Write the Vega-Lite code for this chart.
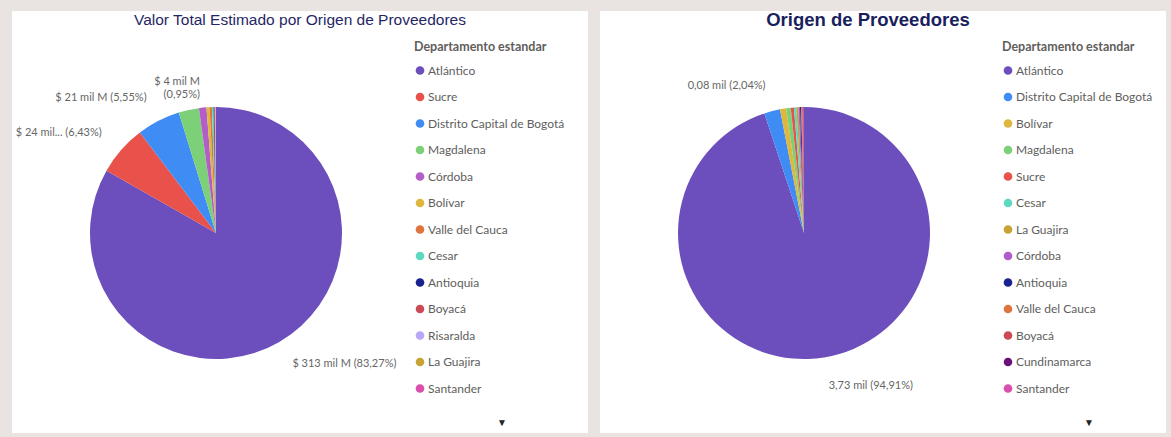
{
  "$schema": "https://vega.github.io/schema/vega-lite/v6.json",
  "background": "#E9E3E1",
  "padding": {"left": 12, "top": 11, "right": 5, "bottom": 4},
  "config": {
    "view": {"stroke": null, "fill": "white"},
    "legend": {
      "orient": "none", "legendX": -6, "legendY": 8,
      "titleFont": "Lato", "titleFontSize": 12.5, "titleFontWeight": "bold", "titleColor": "#605E5C",
      "labelFont": "Lato", "labelFontSize": 12, "labelColor": "#605E5C",
      "symbolType": "circle", "symbolSize": 75, "symbolOpacity": 1, "symbolStrokeWidth": 0,
      "rowPadding": 14.5, "titlePadding": 11, "labelOffset": 2, "padding": 0, "labelLimit": 200
    }
  },
  "datasets": {
    "valor": [
      {"dept": "Atlántico", "v": 313.1, "label": "$ 313 mil M (83,27%)"},
      {"dept": "Sucre", "v": 24.2, "label": "$ 24 mil... (6,43%)"},
      {"dept": "Distrito Capital de Bogotá", "v": 20.9, "label": "$ 21 mil M (5,55%)"},
      {"dept": "Magdalena", "v": 9.8, "label": ""},
      {"dept": "Córdoba", "v": 3.6, "label": ["$ 4 mil M", "(0,95%)"]},
      {"dept": "Bolívar", "v": 1.5, "label": ""},
      {"dept": "Valle del Cauca", "v": 1.1, "label": ""},
      {"dept": "Cesar", "v": 0.8, "label": ""},
      {"dept": "Antioquia", "v": 0.4, "label": ""},
      {"dept": "Boyacá", "v": 0.3, "label": ""},
      {"dept": "Risaralda", "v": 0.2, "label": ""},
      {"dept": "La Guajira", "v": 0.15, "label": ""},
      {"dept": "Santander", "v": 0.1, "label": ""}
    ],
    "prov": [
      {"dept": "Atlántico", "v": 3730, "label": "3,73 mil (94,91%)"},
      {"dept": "Distrito Capital de Bogotá", "v": 80, "label": "0,08 mil (2,04%)"},
      {"dept": "Bolívar", "v": 31, "label": ""},
      {"dept": "Magdalena", "v": 23, "label": ""},
      {"dept": "Sucre", "v": 16, "label": ""},
      {"dept": "Cesar", "v": 12, "label": ""},
      {"dept": "La Guajira", "v": 10, "label": ""},
      {"dept": "Córdoba", "v": 8, "label": ""},
      {"dept": "Antioquia", "v": 6, "label": ""},
      {"dept": "Valle del Cauca", "v": 5, "label": ""},
      {"dept": "Boyacá", "v": 4, "label": ""},
      {"dept": "Cundinamarca", "v": 3, "label": ""},
      {"dept": "Santander", "v": 2, "label": ""}
    ],
    "tituloA": [{"t": "Valor Total Estimado por Origen de Proveedores"}],
    "tituloB": [{"t": "Origen de Proveedores"}],
    "flecha": [{"s": "▼"}]
  },
  "spacing": 12,
  "resolve": {"scale": {"color": "independent", "theta": "independent"}, "legend": {"color": "independent"}},
  "hconcat": [
    {
      "spacing": 0,
      "resolve": {"scale": {"color": "independent", "theta": "independent"}, "legend": {"color": "independent"}},
      "vconcat": [
        {
          "width": 576, "height": 22,
          "view": {"fill": "white", "stroke": null},
          "data": {"name": "tituloA"},
          "mark": {"type": "text", "font": "Liberation Sans", "fontSize": 15.5, "color": "#1F2766", "baseline": "middle", "dy": -2},
          "encoding": {"text": {"field": "t", "type": "nominal"}}
        },
        {
          "spacing": 0,
          "bounds": "flush",
          "resolve": {"scale": {"color": "independent", "theta": "independent"}, "legend": {"color": "independent"}},
          "hconcat": [
            {
              "width": 408, "height": 400,
              "view": {"fill": "white", "stroke": null},
              "data": {"name": "valor"},
              "layer": [
                {
                  "mark": {"type": "arc", "outerRadius": 126},
                  "encoding": {
                    "theta": {"field": "v", "type": "quantitative", "stack": true},
                    "order": {"field": "v", "type": "quantitative", "sort": "descending"},
                    "color": {"field": "dept", "type": "nominal", "legend": null,
                      "scale": {"domain": ["Atlántico", "Sucre", "Distrito Capital de Bogotá", "Magdalena", "Córdoba", "Bolívar", "Valle del Cauca", "Cesar", "Antioquia", "Boyacá", "Risaralda", "La Guajira", "Santander"],
                                "range": ["#6C4FBC", "#E8524A", "#408CF5", "#7CD178", "#B35DC8", "#DDB73E", "#E0743F", "#5DD9C1", "#1A2290", "#CB4A55", "#B9A7F9", "#C6A332", "#DA4FAB"]}}
                  }
                },
                {
                  "mark": {"type": "text", "radius": 152, "align": "left", "baseline": "middle", "font": "Lato", "fontSize": 11, "color": "#666666"},
                  "encoding": {
                    "theta": {"field": "v", "type": "quantitative", "stack": true},
                    "order": {"field": "v", "type": "quantitative", "sort": "descending"},
                    "text": {"condition": {"test": "datum.dept === 'Atlántico'", "field": "label", "type": "nominal"}, "value": ""}
                  }
                },
                {
                  "mark": {"type": "text", "radius": 152, "align": "right", "baseline": "middle", "font": "Lato", "fontSize": 11, "color": "#666666"},
                  "encoding": {
                    "theta": {"field": "v", "type": "quantitative", "stack": true},
                    "order": {"field": "v", "type": "quantitative", "sort": "descending"},
                    "text": {"condition": {"test": "datum.dept !== 'Atlántico'", "field": "label", "type": "nominal"}, "value": ""}
                  }
                }
              ]
            },
            {
              "width": 168, "height": 400,
              "view": {"fill": "white", "stroke": null},
              "layer": [
                {
                  "data": {"name": "valor"},
                  "mark": {"type": "point", "filled": true, "opacity": 0},
                  "encoding": {
                    "color": {"field": "dept", "type": "nominal", "title": "Departamento estandar",
                      "scale": {"domain": ["Atlántico", "Sucre", "Distrito Capital de Bogotá", "Magdalena", "Córdoba", "Bolívar", "Valle del Cauca", "Cesar", "Antioquia", "Boyacá", "Risaralda", "La Guajira", "Santander"],
                                "range": ["#6C4FBC", "#E8524A", "#408CF5", "#7CD178", "#B35DC8", "#DDB73E", "#E0743F", "#5DD9C1", "#1A2290", "#CB4A55", "#B9A7F9", "#C6A332", "#DA4FAB"]}}
                  }
                },
                {
                  "data": {"name": "flecha"},
                  "mark": {"type": "text", "fontSize": 10, "color": "#252423", "baseline": "middle", "dy": 190, "dx": -2},
                  "encoding": {"text": {"field": "s", "type": "nominal"}}
                }
              ]
            }
          ]
        }
      ]
    },
    {
      "spacing": 0,
      "resolve": {"scale": {"color": "independent", "theta": "independent"}, "legend": {"color": "independent"}},
      "vconcat": [
        {
          "width": 566, "height": 22,
          "view": {"fill": "white", "stroke": null},
          "data": {"name": "tituloB"},
          "mark": {"type": "text", "font": "Liberation Sans", "fontSize": 18.5, "fontWeight": "bold", "color": "#1A1F5E", "baseline": "middle", "dy": -2, "dx": -15},
          "encoding": {"text": {"field": "t", "type": "nominal"}}
        },
        {
          "spacing": 0,
          "bounds": "flush",
          "resolve": {"scale": {"color": "independent", "theta": "independent"}, "legend": {"color": "independent"}},
          "hconcat": [
            {
              "width": 408, "height": 400,
              "view": {"fill": "white", "stroke": null},
              "data": {"name": "prov"},
              "layer": [
                {
                  "mark": {"type": "arc", "outerRadius": 126},
                  "encoding": {
                    "theta": {"field": "v", "type": "quantitative", "stack": true},
                    "order": {"field": "v", "type": "quantitative", "sort": "descending"},
                    "color": {"field": "dept", "type": "nominal", "legend": null,
                      "scale": {"domain": ["Atlántico", "Distrito Capital de Bogotá", "Bolívar", "Magdalena", "Sucre", "Cesar", "La Guajira", "Córdoba", "Antioquia", "Valle del Cauca", "Boyacá", "Cundinamarca", "Santander"],
                                "range": ["#6C4FBC", "#408CF5", "#DDB73E", "#7CD178", "#E8524A", "#5DD9C1", "#C6A332", "#B35DC8", "#1A2290", "#E0743F", "#CB4A55", "#6B1078", "#DA4FAB"]}}
                  }
                },
                {
                  "mark": {"type": "text", "radius": 155, "align": "left", "baseline": "middle", "font": "Lato", "fontSize": 11, "color": "#666666"},
                  "encoding": {
                    "theta": {"field": "v", "type": "quantitative", "stack": true},
                    "order": {"field": "v", "type": "quantitative", "sort": "descending"},
                    "text": {"condition": {"test": "datum.dept === 'Atlántico'", "field": "label", "type": "nominal"}, "value": ""}
                  }
                },
                {
                  "mark": {"type": "text", "radius": 152, "align": "right", "baseline": "middle", "font": "Lato", "fontSize": 11, "color": "#666666"},
                  "encoding": {
                    "theta": {"field": "v", "type": "quantitative", "stack": true},
                    "order": {"field": "v", "type": "quantitative", "sort": "descending"},
                    "text": {"condition": {"test": "datum.dept !== 'Atlántico'", "field": "label", "type": "nominal"}, "value": ""}
                  }
                }
              ]
            },
            {
              "width": 158, "height": 400,
              "view": {"fill": "white", "stroke": null},
              "layer": [
                {
                  "data": {"name": "prov"},
                  "mark": {"type": "point", "filled": true, "opacity": 0},
                  "encoding": {
                    "color": {"field": "dept", "type": "nominal", "title": "Departamento estandar",
                      "scale": {"domain": ["Atlántico", "Distrito Capital de Bogotá", "Bolívar", "Magdalena", "Sucre", "Cesar", "La Guajira", "Córdoba", "Antioquia", "Valle del Cauca", "Boyacá", "Cundinamarca", "Santander"],
                                "range": ["#6C4FBC", "#408CF5", "#DDB73E", "#7CD178", "#E8524A", "#5DD9C1", "#C6A332", "#B35DC8", "#1A2290", "#E0743F", "#CB4A55", "#6B1078", "#DA4FAB"]}}
                  }
                },
                {
                  "data": {"name": "flecha"},
                  "mark": {"type": "text", "fontSize": 10, "color": "#252423", "baseline": "middle", "dy": 190, "dx": 2},
                  "encoding": {"text": {"field": "s", "type": "nominal"}}
                }
              ]
            }
          ]
        }
      ]
    }
  ]
}
